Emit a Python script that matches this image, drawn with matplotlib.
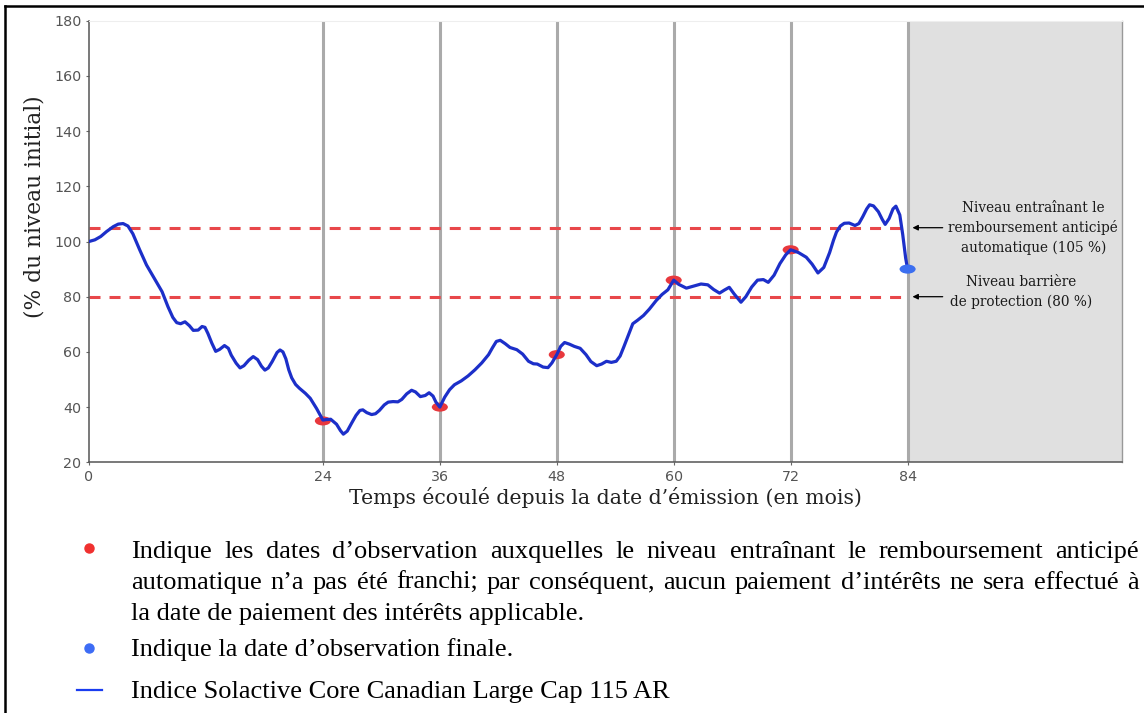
import matplotlib
matplotlib.use("Agg")
import matplotlib.pyplot as plt
from matplotlib.patches import Ellipse
from matplotlib.transforms import IdentityTransform
from matplotlib.lines import Line2D

# ---------------- data ----------------
months = [0, 0.6, 1.2, 1.8, 2.5, 3.0, 3.5, 4.0, 4.5, 5.2, 5.9, 6.8, 7.5, 8.1, 8.6,
          9.0, 9.4, 9.85, 10.3, 10.7, 11.2, 11.6, 11.9, 12.2, 12.6, 13.0, 13.4,
          13.9, 14.3, 14.6, 15.1, 15.5, 15.9, 16.4, 16.85, 17.3, 17.7, 18.05, 18.4,
          18.8, 19.3, 19.6, 19.9, 20.2, 20.5, 20.8, 21.2, 21.6, 22.2, 22.7, 23.35,
          24.0, 24.4, 24.8, 25.4, 25.8, 26.1, 26.5, 26.95, 27.4, 27.8, 28.1, 28.5,
          29.0, 29.4, 29.8, 30.3, 30.7, 31.2, 31.7, 32.1, 32.6, 33.1, 33.5, 34.0,
          34.5, 34.9, 35.3, 35.6, 36.0, 36.5, 37.0, 37.5, 38.2, 38.9, 39.6, 40.3,
          41.0, 41.4, 41.8, 42.2, 42.7, 43.2, 43.9, 44.5, 45.1, 45.6, 46.0, 46.6,
          47.1, 47.5, 48.0, 48.4, 48.8, 49.3, 49.8, 50.4, 51.0, 51.5, 52.1, 52.6,
          53.1, 53.6, 54.1, 54.5, 54.9, 55.4, 55.8, 56.3, 56.9, 57.5, 58.2, 58.8,
          59.4, 60.0, 60.5, 61.3, 62.0, 62.8, 63.5, 64.1, 64.7, 65.2, 65.7, 66.2,
          66.9, 67.4, 68.0, 68.6, 69.2, 69.7, 70.3, 70.9, 71.5, 72.0, 72.8, 73.6,
          74.2, 74.8, 75.4, 76.0, 76.4, 76.7, 77.1, 77.5, 78.0, 78.6, 79.0, 79.4,
          79.8, 80.1, 80.5, 81.0, 81.4, 81.7, 82.1, 82.5, 82.8, 83.2, 83.5, 83.8,
          84.0]
index_level = [100.0, 100.6, 101.8, 103.6, 105.4, 106.3, 106.5, 105.6, 102.8, 97.0,
               91.5, 86.0, 81.8, 76.4, 72.5, 70.6, 70.2, 70.9, 69.5, 67.8, 67.9,
               69.2, 68.9, 66.7, 63.2, 60.2, 60.9, 62.3, 61.3, 58.8, 55.9, 54.2,
               55.0, 57.0, 58.3, 57.2, 54.8, 53.4, 54.2, 56.5, 59.8, 60.7, 60.0,
               57.5, 53.5, 50.6, 48.2, 46.8, 45.0, 43.2, 39.5, 35.3, 35.5, 35.6,
               33.8, 31.5, 30.2, 31.3, 34.2, 37.0, 38.8, 39.0, 38.0, 37.3, 37.6,
               38.8, 40.8, 41.8, 42.0, 41.9, 42.8, 44.8, 46.1, 45.5, 43.8, 44.2,
               45.2, 44.0, 41.8, 40.0, 43.6, 46.3, 48.1, 49.5, 51.3, 53.5, 56.0,
               59.0, 61.5, 63.8, 64.2, 63.0, 61.6, 60.8, 59.2, 56.6, 55.7, 55.6,
               54.5, 54.3, 56.0, 59.0, 62.0, 63.4, 62.8, 62.0, 61.3, 59.0, 56.5,
               55.0, 55.6, 56.6, 56.2, 56.6, 58.5, 62.0, 66.5, 70.2, 71.5, 73.2,
               75.5, 78.6, 80.8, 82.5, 86.0, 84.5, 83.1, 83.8, 84.6, 84.3, 82.6,
               81.3, 82.4, 83.4, 81.0, 78.0, 80.0, 83.5, 86.0, 86.2, 85.2, 87.8,
               92.0, 95.2, 97.0, 96.0, 94.3, 91.8, 88.6, 90.6, 96.0, 100.5, 103.4,
               105.6, 106.6, 106.7, 105.8, 106.5, 109.0, 111.8, 113.3, 112.9, 110.8,
               108.0, 106.2, 108.3, 111.8, 112.8, 109.6, 102.5, 94.0, 90.0]

obs_months = [24, 36, 48, 60, 72]
obs_values = [35, 40, 59, 86, 97]
final_month = 84
final_value = 90

autocall_level = 105
barrier_level = 80

x_ticks = [0, 24, 36, 48, 60, 72, 84]
y_ticks = [20, 40, 60, 80, 100, 120, 140, 160, 180]

# ---------------- figure ----------------
W, H = 1144, 713
fig = plt.figure(figsize=(W / 100, H / 100), dpi=100)
fig.patch.set_facecolor("white")

def px_box(l, t, r, b):
    return [l / W, 1 - b / H, (r - l) / W, (b - t) / H]

ax = fig.add_axes(px_box(89, 20.7, 1122, 462.3))
ax.set_xlim(0, 106)
ax.set_ylim(20, 180)

# grey zone after final observation
ax.axvspan(84, 106, color="#e0e0e0", zorder=0, lw=0)

# observation verticals
for m in x_ticks[1:]:
    ax.axvline(m, color="#aaaaaa", lw=2.2, zorder=1)

# dashed levels
dash = (0, (3.6, 2.95))
ax.plot([0, 84], [autocall_level, autocall_level], color="#e8474a", lw=2.2,
        linestyle=dash, zorder=2)
ax.plot([0, 84], [barrier_level, barrier_level], color="#e8474a", lw=2.2,
        linestyle=dash, zorder=2)

# observation markers (ellipses)
ew, eh = 1.65, 3.3
for m, v in zip(obs_months, obs_values):
    ax.add_patch(Ellipse((m, v), ew, eh, facecolor="#e8383d", edgecolor="none", zorder=3))

# index line
ax.plot(months, index_level, color="#1c2fc9", lw=2.3, zorder=4,
        solid_joinstyle="round", solid_capstyle="round")

ax.add_patch(Ellipse((final_month, final_value), ew, eh, facecolor="#3c6ff0",
                     edgecolor="none", zorder=5))

# axes styling
for side in ["left", "bottom"]:
    ax.spines[side].set_color("#555555")
    ax.spines[side].set_linewidth(1.1)
ax.spines["top"].set_color("#eeeeee")
ax.spines["top"].set_linewidth(0.8)
ax.spines["right"].set_color("#999999")
ax.spines["right"].set_linewidth(1.0)

ax.set_xticks(x_ticks)
ax.set_xticklabels([str(t) for t in x_ticks])
ax.set_yticks(y_ticks)
ax.set_yticklabels([str(t) for t in y_ticks])
ax.tick_params(axis="both", labelsize=10.3, labelcolor="#555555", color="#666666",
               length=2.5, width=0.8, pad=3)
for lab in ax.get_xticklabels() + ax.get_yticklabels():
    lab.set_family("DejaVu Sans")

# annotations
ax.annotate("", xy=(84.5, autocall_level), xytext=(87.6, autocall_level),
            arrowprops=dict(arrowstyle="-|>", color="black", lw=0.9,
                            mutation_scale=8, shrinkA=0, shrinkB=0))
ax.annotate("", xy=(84.5, barrier_level), xytext=(87.6, barrier_level),
            arrowprops=dict(arrowstyle="-|>", color="black", lw=0.9,
                            mutation_scale=8, shrinkA=0, shrinkB=0))
ax.text(96.9, autocall_level,
        "Niveau entraînant le\nremboursement anticipé\nautomatique (105 %)",
        ha="center", va="center", multialignment="center", family="DejaVu Serif",
        fontsize=9.8, color="#1a1a1a", linespacing=1.45, zorder=6)
ax.text(95.6, 81.7, "Niveau barrière\nde protection (80 %)",
        ha="center", va="center", multialignment="center", family="DejaVu Serif",
        fontsize=9.8, color="#1a1a1a", linespacing=1.45, zorder=6)

# axis labels
fig.text(605 / W, 1 - 497 / H, "Temps écoulé depuis la date d’émission (en mois)",
         ha="center", va="center", family="DejaVu Serif", fontsize=14.7, color="#222222")
fig.text(35 / W, 1 - 207 / H, "(% du niveau initial)", rotation=90,
         ha="center", va="center", family="DejaVu Serif", fontsize=15.7, color="#222222")

# ---------------- legend / notes ----------------
ident = IdentityTransform()
renderer = fig.canvas.get_renderer()
note_font = dict(family="Liberation Serif", fontsize=19, color="black")

def px_text(x, y_top, s, **kw):
    return fig.text(x, H - y_top, s, transform=ident, va="baseline", **kw)

def justified(words, x0, x1, y_base):
    ts = [px_text(0, y_base, w, **note_font) for w in words]
    widths = [t.get_window_extent(renderer).width for t in ts]
    gap = (x1 - x0 - sum(widths)) / (len(words) - 1)
    x = x0
    for t, w in zip(ts, widths):
        t.set_x(x)
        x += w + gap

X0, X1 = 131, 1139
justified("Indique les dates d’observation auxquelles le niveau entraînant le remboursement anticipé".split(),
          X0, X1, 558)
justified("automatique n’a pas été franchi; par conséquent, aucun paiement d’intérêts ne sera effectué à".split(),
          X0, X1, 589)
px_text(X0, 620, "la date de paiement des intérêts applicable.", **note_font)
px_text(X0, 656, "Indique la date d’observation finale.", **note_font)
px_text(X0, 698, "Indice Solactive Core Canadian Large Cap 115 AR", **note_font)

# bullets
fig.add_artist(Line2D([89 / W], [1 - 548 / H], marker="o", markersize=6.5,
                      color="#f0302f", linestyle="none"))
fig.add_artist(Line2D([89 / W], [1 - 648 / H], marker="o", markersize=6.5,
                      color="#3d6cf5", linestyle="none"))
fig.add_artist(Line2D([77 / W, 102 / W], [1 - 690 / H, 1 - 690 / H],
                      color="#1a3cf0", lw=1.6))

# outer frame (top and left)
fig.add_artist(Line2D([5 / W, 1], [1 - 6 / H, 1 - 6 / H], color="black", lw=1.8))
fig.add_artist(Line2D([5 / W, 5 / W], [0, 1 - 6 / H], color="black", lw=1.8))

fig.savefig("out.png", dpi=100, facecolor="white")
